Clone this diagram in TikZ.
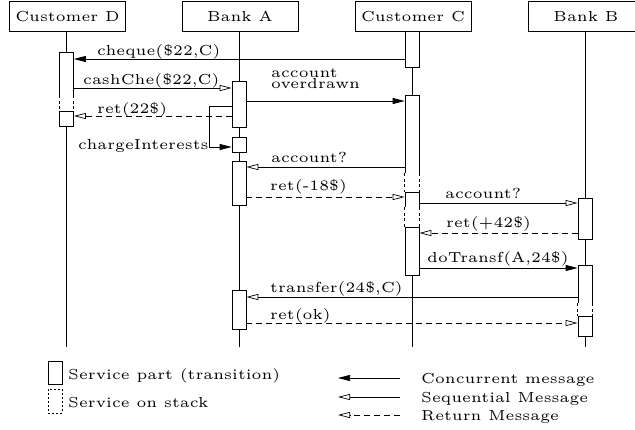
\documentclass[tikz,border=0pt]{standalone}
\usepackage{fontspec}
\setmainfont{lmroman5-regular}[Extension=.otf]
\usetikzlibrary{arrows.meta}
\begin{document}
\begin{tikzpicture}[x=1pt,y=-1pt,
  font=\fontsize{14.5}{15}\selectfont,
  hdr/.style={draw, line width=0.8pt, minimum width=116pt, minimum height=30pt, inner sep=0, anchor=north},
  act/.style={draw, fill=white, line width=0.7pt, minimum width=14pt, inner sep=0, anchor=north},
  stk/.style={fill=white, minimum width=14pt, inner sep=0, anchor=north},
  stkside/.style={dash pattern=on 3pt off 2.5pt, line width=0.7pt},
  life/.style={line width=0.8pt},
  conc/.style={line width=0.7pt, -{Triangle[length=12pt,width=6pt]}},
  seq/.style={line width=0.7pt, -{Triangle[open,length=12pt,width=6pt]}},
  retm/.style={line width=0.7pt, dash pattern=on 6pt off 4pt, -{Triangle[open,length=12pt,width=6pt]}},
  lbl/.style={anchor=base west, inner sep=0}
]
\useasboundingbox (0,0) rectangle (635,429);
% headers
\node[hdr] (hD) at (67.5,1) {Customer D};
\node[hdr] (hA) at (240,1) {Bank A};
\node[hdr] (hC) at (413,1) {Customer C};
\node[hdr] (hB) at (586,1) {Bank B};
% lifelines
\coordinate (tD) at (66.5,31); \coordinate (eD) at (66.5,347);
\coordinate (tA) at (239,31);  \coordinate (eA) at (239,347);
\coordinate (tC) at (412,31);  \coordinate (eC) at (412,347);
\coordinate (tB) at (585,31);  \coordinate (eB) at (585,347);
\draw[life] (tD) -- (eD);
\draw[life] (tA) -- (eA);
\draw[life] (tC) -- (eC);
\draw[life] (tB) -- (eB);
% Customer D
\node[act, minimum height=43pt] (d1) at (66.5,52) {};
\node[stk, minimum height=16pt] (ds) at (66.5,95) {};
\node[act, minimum height=15pt] (d2) at (66.5,111) {};
\draw[stkside] (ds.north west) -- (ds.south west) (ds.north east) -- (ds.south east);
% Bank A
\node[act, minimum height=46pt] (a1) at (239,81) {};
\node[act, minimum height=15pt] (a2) at (239,137) {};
\node[act, minimum height=44pt] (a3) at (239,161) {};
\node[act, minimum height=39pt] (a4) at (239,290) {};
% Customer C
\node[act, minimum height=36pt] (c1) at (412,31) {};
\node[act, minimum height=78pt] (c2) at (412,95) {};
\node[stk, minimum height=19pt] (cs1) at (412,173) {};
\node[act, minimum height=15pt] (c3) at (412,192) {};
\node[stk, minimum height=20pt] (cs2) at (412,207) {};
\node[act, minimum height=48pt] (c4) at (412,227) {};
\draw[stkside] (cs1.north west) -- (cs1.south west) (cs1.north east) -- (cs1.south east);
\draw[stkside] (cs2.north west) -- (cs2.south west) (cs2.north east) -- (cs2.south east);
% Bank B
\node[act, minimum height=41pt] (b1) at (585,198) {};
\node[act, minimum height=38pt] (b2) at (585,265) {};
\node[stk, minimum height=13pt] (bs) at (585,303) {};
\node[act, minimum height=20pt] (b3) at (585,316) {};
\draw[stkside] (bs.north west) -- (bs.south west) (bs.north east) -- (bs.south east);
% messages
\draw[conc] (c1.west |- 0,59) -- (d1.east |- 0,59);
\node[lbl] (m1) at (97,55) {cheque(\$22,C)};
\draw[seq] (d1.east |- 0,88) -- (a1.west |- 0,88);
\node[lbl] (m2) at (83,84) {cashChe(\$22,C)};
\draw[retm] (a1.west |- 0,116) -- (d2.east |- 0,116);
\node[lbl] (m3) at (97,113) {ret(22\$)};
\draw[conc] (a1.east |- 0,101) -- (c2.west |- 0,101);
\node[lbl, align=left, font=\fontsize{14.5}{10.5}\selectfont, anchor=base west] (m4) at (271,88) {account\\overdrawn};
\coordinate (sc1) at (209,106);
\coordinate (sc2) at (209,147);
\draw[conc] (a1.west |- sc1) -- (sc1) -- (sc2) -- (a2.west |- sc2);
\node[lbl] (m5) at (78,149) {chargeInterests};
\draw[seq] (c2.west |- 0,167) -- (a3.east |- 0,167);
\node[lbl] (m6) at (271,162) {account?};
\draw[retm] (a3.east |- 0,197) -- (c3.west |- 0,197);
\node[lbl] (m7) at (270,190) {ret(-18\$)};
\draw[seq] (c3.east |- 0,203) -- (b1.west |- 0,203);
\node[lbl] (m8) at (445,198) {account?};
\draw[retm] (b1.west |- 0,233) -- (c4.east |- 0,233);
\node[lbl] (m9) at (446,227) {ret(+42\$)};
\draw[conc] (c4.east |- 0,268) -- (b2.west |- 0,268);
\node[lbl] (m10) at (427,262) {doTransf(A,24\$)};
\draw[seq] (b2.west |- 0,297) -- (a4.east |- 0,297);
\node[lbl] (m11) at (270,292) {transfer(24\$,C)};
\draw[retm] (a4.east |- 0,323) -- (b3.west |- 0,323);
\node[lbl] (m12) at (270,319) {ret(ok)};
% legend
\node[act, minimum height=23pt] (k1) at (55,361) {};
\node[lbl] (k1t) at (68,379) {Service part (transition)};
\node[draw, dash pattern=on 2pt off 2pt, line width=0.7pt, minimum width=14pt, minimum height=24pt, inner sep=0, anchor=north] (k2) at (55,389) {};
\node[lbl] (k2t) at (68,407) {Service on stack};
\coordinate (k3a) at (400,378); \coordinate (k3b) at (338,378);
\draw[conc] (k3a) -- (k3b);
\node[lbl] (k3t) at (421,383) {Concurrent message};
\coordinate (k4a) at (400,397); \coordinate (k4b) at (338,397);
\draw[seq] (k4a) -- (k4b);
\node[lbl] (k4t) at (421,402) {Sequential Message};
\coordinate (k5a) at (400,415); \coordinate (k5b) at (338,415);
\draw[retm] (k5a) -- (k5b);
\node[lbl] (k5t) at (421,420) {Return Message};
\end{tikzpicture}
\end{document}
